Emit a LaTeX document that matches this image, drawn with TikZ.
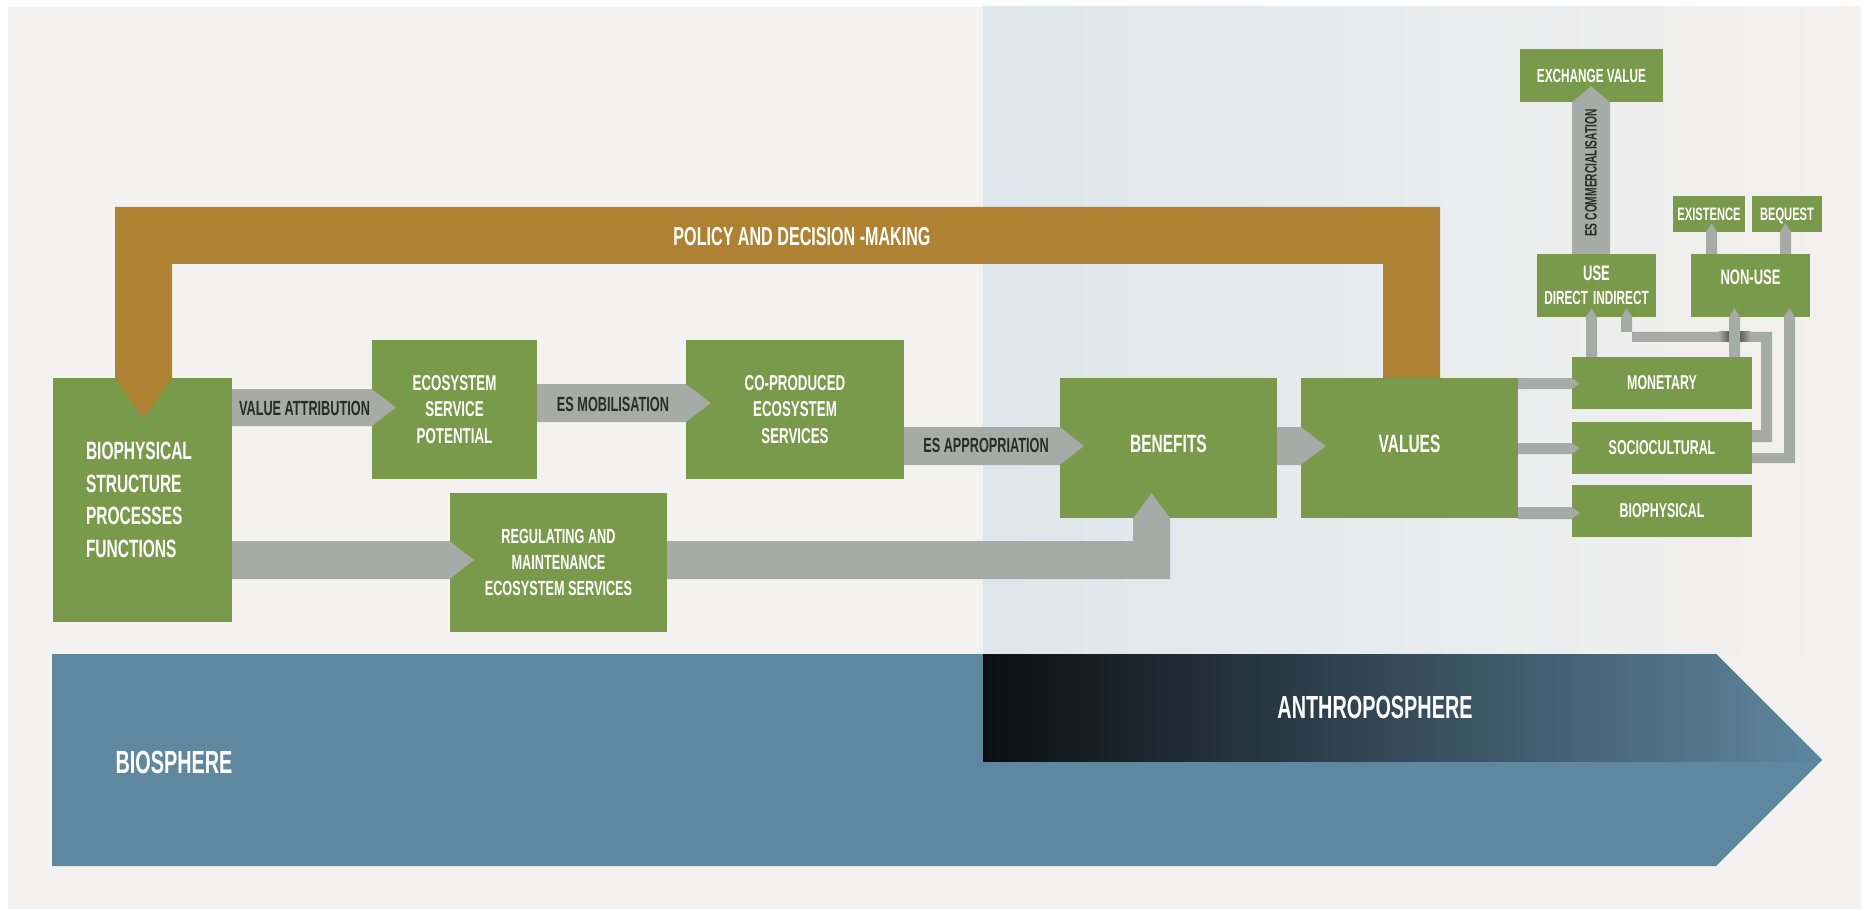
\documentclass[tikz,border=0pt]{standalone}
\usepackage{fontspec}
\newfontfamily\dinf[FakeStretch=0.62]{Liberation Sans}
\usetikzlibrary{calc}
\definecolor{bgc}{HTML}{F3F2F0}
\definecolor{panelL}{HTML}{DEE6EB}
\definecolor{panelR}{HTML}{F4F1EF}
\definecolor{boxg}{HTML}{799A4A}
\definecolor{brownc}{HTML}{AE8232}
\definecolor{arrg}{HTML}{A6ABA7}
\definecolor{bluec}{HTML}{5F87A0}
\definecolor{darkc}{HTML}{0B0F12}
\definecolor{txtd}{HTML}{2A2A2A}
\newcommand\myfs[2]{\fontsize{#1}{#2}\selectfont}
% horizontal chevron arrow: from anchor #1 to west side of node #2, band y #3..#4, tip length #5
\newcommand\harr[5]{\fill[conn] let \p1=(#1), \p2=(#2.west) in (\x1,-#3pt) -- (\x2,-#3pt) -- ({\x2+#5pt},{-(#3+#4)/2*1pt}) -- (\x2,-#4pt) -- (\x1,-#4pt) -- cycle;}
% vertical chevron arrow: from anchor #1 up to south side of node #2, band x #3..#4, tip length #5
\newcommand\varr[5]{\fill[conn] let \p1=(#1), \p2=(#2.south) in (#3pt,\y1) -- (#3pt,\y2) -- ({(#3+#4)/2*1pt},{\y2+#5pt}) -- (#4pt,\y2) -- (#4pt,\y1) -- cycle;}
\begin{document}
\begin{tikzpicture}[x=1pt,y=-1pt,
  fsz/.style 2 args={font=\dinf\bfseries\myfs{#1}{#2}},
  box/.style={rectangle, fill=boxg, inner sep=0pt, text=white, align=center},
  conn/.style={fill=arrg},
  albl/.style={text=txtd, inner sep=0pt},
  wlbl/.style={text=white, inner sep=0pt}]
\useasboundingbox (0,0) rectangle (1861,909);
\fill[white] (0,0) rectangle (1861,909);
\fill[bgc] (8,7) rectangle (1861,909);
\shade[left color=panelL, right color=panelR] (983,7) rectangle (1861,654);
% biosphere arrow
\fill[bluec] (52,654) -- (1716,654) -- (1822,760) -- (1716,866) -- (52,866) -- cycle;
\begin{scope}
  \clip (52,654) -- (1716,654) -- (1822,760) -- (1716,866) -- (52,866) -- cycle;
  \shade[left color=darkc, right color=bluec] (983,654) rectangle (1822,761);
\end{scope}
\node[wlbl, fsz={32}{32}] (biosph) at (174,762) {BIOSPHERE};
\node[wlbl, fsz={32}{32}] (anthro) at (1375,707) {ANTHROPOSPHERE};
% boxes
\node[box, fsz={25}{32.5}, minimum width=179pt, minimum height=244pt, text width=113pt, align=left] (bio) at (142.5,500)
  {BIOPHYSICAL\\STRUCTURE\\PROCESSES\\FUNCTIONS};
\node[box, fsz={21.5}{26.5}, minimum width=165pt, minimum height=139pt] (esp) at (454.5,409.5)
  {ECOSYSTEM\\SERVICE\\POTENTIAL};
\node[box, fsz={21.5}{26.5}, minimum width=218pt, minimum height=139pt] (cop) at (795,409.5)
  {CO-PRODUCED\\ECOSYSTEM\\SERVICES};
\node[box, fsz={20.5}{26}, minimum width=217pt, minimum height=139pt] (reg) at (558.5,562.5)
  {REGULATING AND\\MAINTENANCE\\ECOSYSTEM SERVICES};
\node[box, fsz={25}{30}, minimum width=217pt, minimum height=140pt, text depth=8pt] (ben) at (1168.5,448)
  {BENEFITS};
\node[box, fsz={25}{30}, minimum width=217pt, minimum height=140pt, text depth=8pt] (val) at (1409.5,448)
  {VALUES};
\node[box, fsz={20}{24}, minimum width=180pt, minimum height=52pt] (mon) at (1662,383) {MONETARY};
\node[box, fsz={20}{24}, minimum width=180pt, minimum height=52pt] (soc) at (1662,448) {SOCIOCULTURAL};
\node[box, fsz={20}{24}, minimum width=180pt, minimum height=52pt] (bph) at (1662,511) {BIOPHYSICAL};
\node[box, fsz={21}{23.5}, minimum width=119pt, minimum height=63pt] (use) at (1596.5,285.5)
  {USE\\\myfs{19}{23.5}DIRECT\hspace{5pt}INDIRECT};
\node[box, fsz={21}{24}, minimum width=119pt, minimum height=63pt, text depth=16pt] (non) at (1750.5,285.5)
  {NON-USE};
\node[box, fsz={18}{20}, minimum width=72pt, minimum height=36pt, text depth=0pt] (exi) at (1709,214) {EXISTENCE};
\node[box, fsz={18}{20}, minimum width=70pt, minimum height=36pt, text depth=0pt] (beq) at (1787,214) {BEQUEST};
\node[box, fsz={19}{22}, minimum width=143pt, minimum height=53pt] (exv) at (1591.5,75.5) {EXCHANGE VALUE};
% main flow arrows
\harr{bio.east}{esp}{389}{426}{24}
\harr{esp.east}{cop}{384}{422}{25}
\harr{cop.east}{ben}{427}{465}{24}
\harr{ben.east}{val}{427}{465}{25}
\harr{bio.east}{reg}{541}{579}{24}
\fill[conn] let \p1=(reg.east), \p2=(ben.south) in
  (\x1,-541pt) -- (1133pt,-541pt) -- (1133pt,\y2) -- (1151.5pt,{\y2+25pt}) -- (1170pt,\y2)
  -- (1170pt,-579pt) -- (\x1,-579pt) -- cycle;
\harr{val.east}{mon}{378}{389}{8}
\harr{val.east}{soc}{443}{454}{8}
\harr{val.east}{bph}{507}{519}{8}
% value types
\fill[conn] let \p1=(soc.east), \p2=(use.south) in
  (\x1,-430pt) -- (1761pt,-430pt) -- (1761pt,-342pt) -- (1632pt,-342pt) -- (1632pt,\y2)
  -- (1626.5pt,{\y2+9pt}) -- (1621pt,\y2) -- (1621pt,-332pt) -- (1772pt,-332pt)
  -- (1772pt,-442pt) -- (\x1,-442pt) -- cycle;
\fill[conn] let \p1=(soc.east), \p2=(non.south) in
  (\x1,-453pt) -- (1784pt,-453pt) -- (1784pt,\y2) -- (1789.5pt,{\y2+9pt}) -- (1795pt,\y2)
  -- (1795pt,-463pt) -- (\x1,-463pt) -- cycle;
\shade[left color=arrg, right color=arrg!55!black] (1719,332) rectangle (1729,342);
\shade[left color=arrg!55!black, right color=arrg] (1740,332) rectangle (1750,342);
\varr{mon.north}{use}{1586}{1597}{9}
\varr{mon.north}{non}{1729}{1740}{9}
\varr{non.north}{exi}{1706}{1717}{9}
\varr{non.north}{beq}{1780}{1791}{9}
\varr{use.north}{exv}{1572}{1610}{16}
% policy loop
\fill[brownc] let \p1=(bio.north), \p2=(val.north) in
  (143.5pt,{\y1-40pt}) -- (115pt,\y1) -- (115pt,-207pt) -- (1440pt,-207pt) -- (1440pt,\y2)
  -- (1383pt,\y2) -- (1383pt,-264pt) -- (172pt,-264pt) -- (172pt,\y1) -- cycle;
\node[wlbl, fsz={26}{26}] (pol) at (802,237) {POLICY AND DECISION -MAKING};
% arrow labels
\node[albl, fsz={20.5}{20}] (lva) at (304.5,408) {VALUE ATTRIBUTION};
\node[albl, fsz={20.5}{20}] (lesm) at (613,404) {ES MOBILISATION};
\node[albl, fsz={20.5}{20}] (lesa) at (986,445) {ES APPROPRIATION};
\node[albl, fsz={16.5}{16}, rotate=90] (lcom) at (1591,173) {ES COMMERCIALISATION};
\end{tikzpicture}
\end{document}
